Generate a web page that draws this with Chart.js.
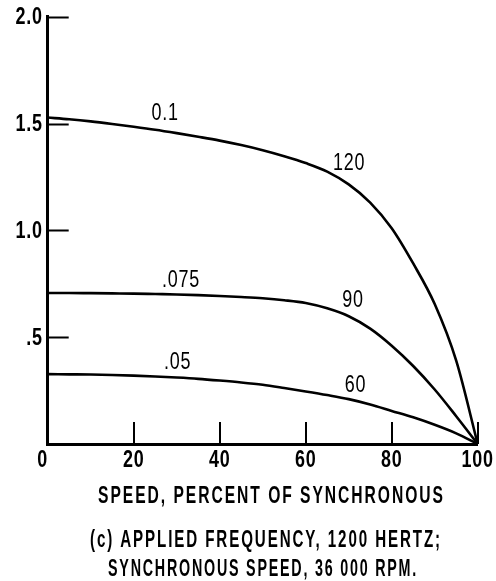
<!DOCTYPE html>
<html>
<head>
<meta charset="utf-8">
<script src="https://cdn.jsdelivr.net/npm/chart.js@4.4.0/dist/chart.umd.min.js"></script>
<style>
  html, body { margin: 0; padding: 0; background: #fff; }
  #wrap { width: 496px; height: 581px; }
</style>
</head>
<body>
<div id="wrap"><canvas id="torque-chart" width="496" height="581"></canvas></div>
<script>
// speed, percent of synchronous
const speedPct = [0, 5, 10, 15, 20, 25, 30, 35, 40, 45, 50, 55, 60, 65, 70, 75, 80, 85, 90, 95, 100];

// one curve per voltage setting
const curveHigh = [1.528, 1.52, 1.51, 1.498, 1.485, 1.471, 1.455, 1.438, 1.42, 1.399, 1.375, 1.347, 1.315, 1.275, 1.215, 1.13, 1.01, 0.845, 0.655, 0.39, 0];
const curveMid = [0.707, 0.707, 0.706, 0.705, 0.704, 0.702, 0.70, 0.697, 0.693, 0.688, 0.682, 0.673, 0.66, 0.635, 0.598, 0.54, 0.46, 0.365, 0.255, 0.13, 0];
const curveLow = [0.327, 0.326, 0.325, 0.323, 0.32, 0.316, 0.311, 0.305, 0.297, 0.288, 0.277, 0.262, 0.246, 0.229, 0.21, 0.185, 0.155, 0.125, 0.09, 0.05, 0];

const xTicks = [0, 20, 40, 60, 80, 100];
const yTicks = [0.5, 1, 1.5, 2];
const yTickLabels = ['.5', '1.0', '1.5', '2.0'];

// curve annotations: text placed at (speed, value)
const curveNotes = [
    { text: '0.1', x: 27.3, y: 1.545 },
    { text: '120', x: 70.1, y: 1.311 },
    { text: '.075', x: 31.0, y: 0.763 },
    { text: '90', x: 71.0, y: 0.669 },
    { text: '.05', x: 30.2, y: 0.381 },
    { text: '60', x: 71.6, y: 0.271 }
];

const FONT = "'Liberation Sans', Arial, sans-serif";
const SQUEEZE = 0.78;

const toPoints = (vals) => speedPct.map((s, i) => ({ x: s, y: vals[i] }));

const lineSet = (vals) => ({
    data: toPoints(vals),
    borderColor: '#000',
    borderWidth: 2.6,
    pointRadius: 0,
    fill: false,
    cubicInterpolationMode: 'monotone'
});

// horizontally squeezed text
const drawText = (ctx, text, x, y, sx, align) => {
    ctx.save();
    ctx.translate(x, y);
    ctx.scale(sx, 1);
    ctx.textAlign = align;
    ctx.fillText(text, 0, 0);
    ctx.restore();
};

// squeeze a line of text to a given width
const fitText = (ctx, text, left, baseline, width) => {
    const w = ctx.measureText(text).width;
    drawText(ctx, text, left, baseline, width / w, 'left');
};

const decorations = {
    id: 'decorations',
    afterDraw(chart) {
        const ctx = chart.ctx;
        const xs = chart.scales.x;
        const ys = chart.scales.y;
        const area = chart.chartArea;
        ctx.save();
        ctx.strokeStyle = '#000';
        ctx.fillStyle = '#000';

        // inward tick marks
        ctx.lineWidth = 2;
        ctx.beginPath();
        yTicks.forEach(v => {
            const py = Math.round(ys.getPixelForValue(v)) + 0.5;
            ctx.moveTo(area.left, py);
            ctx.lineTo(area.left + 21, py);
        });
        xTicks.slice(1).forEach(v => {
            const px = Math.round(xs.getPixelForValue(v));
            ctx.moveTo(px, area.bottom);
            ctx.lineTo(px, area.bottom - 22);
        });
        ctx.stroke();

        ctx.font = 'bold 23px ' + FONT;
        ctx.letterSpacing = '1px';

        // tick labels
        ctx.textBaseline = 'middle';
        yTicks.forEach((v, i) => {
            drawText(ctx, yTickLabels[i], area.left - 5, ys.getPixelForValue(v) + 1, SQUEEZE, 'right');
        });
        ctx.textBaseline = 'alphabetic';
        xTicks.forEach(v => {
            const px = xs.getPixelForValue(v) - (v === 0 ? 5 : 0);
            drawText(ctx, String(v), px, area.bottom + 23, SQUEEZE, 'center');
        });

        // curve notes
        ctx.font = '23px ' + FONT;
        ctx.textBaseline = 'middle';
        curveNotes.forEach(n => {
            drawText(ctx, n.text, xs.getPixelForValue(n.x), ys.getPixelForValue(n.y), SQUEEZE, 'center');
        });

        // axis title and caption
        ctx.textBaseline = 'alphabetic';
        ctx.font = 'bold 24px ' + FONT;
        ctx.letterSpacing = '3px';
        fitText(ctx, 'SPEED, PERCENT OF SYNCHRONOUS', 98, 503, 347);
        fitText(ctx, '(c) APPLIED FREQUENCY, 1200 HERTZ;', 90, 547, 352);
        fitText(ctx, 'SYNCHRONOUS SPEED, 36 000 RPM.', 108, 576, 310);
        ctx.restore();
    }
};

new Chart(document.getElementById('torque-chart').getContext('2d'), {
    type: 'line',
    data: {
        datasets: [lineSet(curveHigh), lineSet(curveMid), lineSet(curveLow)]
    },
    options: {
        responsive: false,
        animation: false,
        events: [],
        layout: { padding: { top: 16.7, right: 18.3, left: 0, bottom: 0 } },
        plugins: {
            legend: { display: false },
            tooltip: { enabled: false }
        },
        scales: {
            x: {
                type: 'linear',
                min: 0,
                max: 100,
                afterFit: (s) => { s.height = 137; },
                grid: { display: true, drawOnChartArea: false, drawTicks: false },
                border: { display: true, color: '#000', width: 3 },
                ticks: { display: false, stepSize: 20 }
            },
            y: {
                min: 0,
                max: 2,
                afterFit: (s) => { s.width = 47.7; },
                grid: { display: true, drawOnChartArea: false, drawTicks: false },
                border: { display: true, color: '#000', width: 3 },
                ticks: { display: false, stepSize: 0.5 }
            }
        }
    },
    plugins: [decorations]
});
</script>
</body>
</html>
